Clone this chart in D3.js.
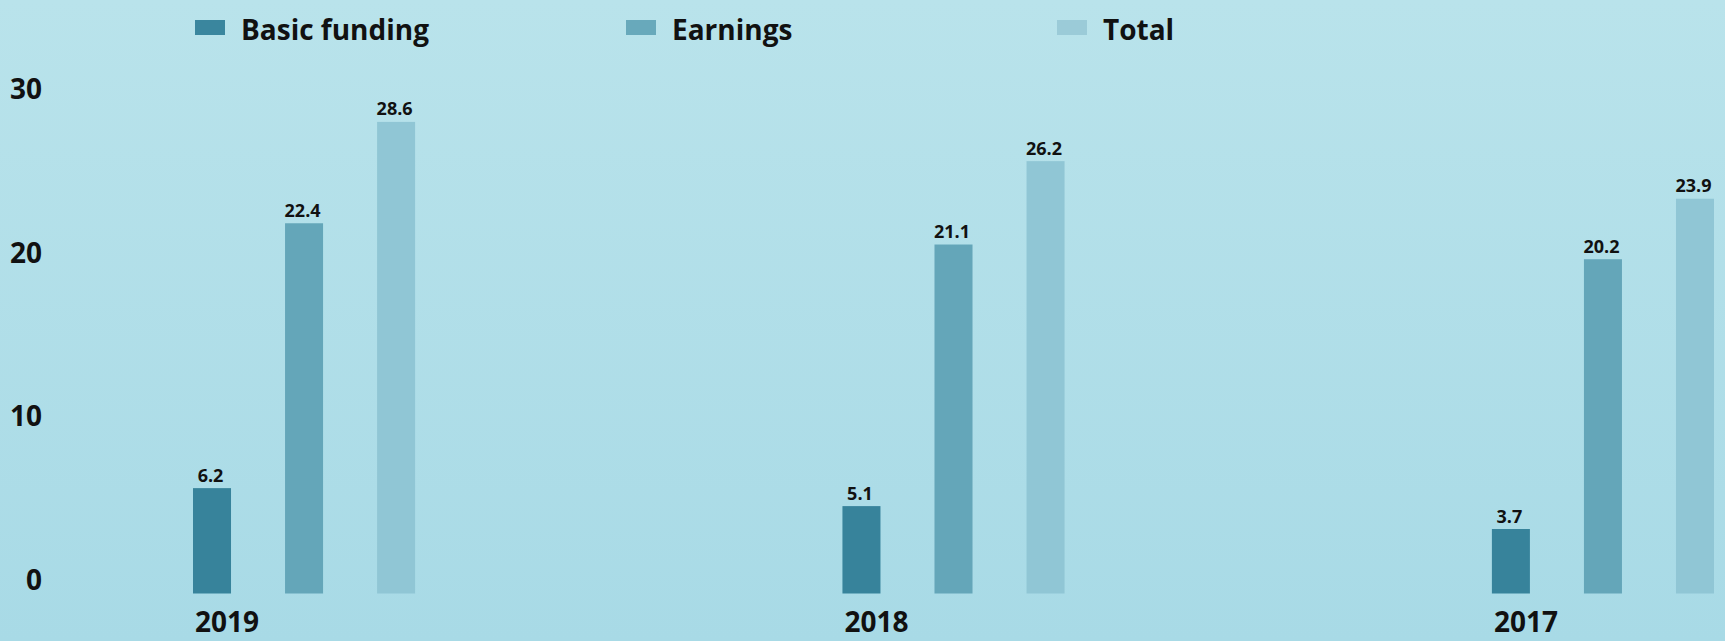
<!DOCTYPE html>
<html>
<head>
<meta charset="utf-8">
<script src="https://cdn.jsdelivr.net/npm/d3@7"></script>
<style>
  html, body { margin: 0; padding: 0; background: #b3e0e9; }
  svg { display: block; }
  text { font-family: "Open Sans", "Noto Sans", sans-serif; font-weight: 700; fill: #111; }
</style>
</head>
<body>
<svg id="chart" width="1725" height="641"></svg>
<script>
const years = ["2019", "2018", "2017"];
const series = ["Basic funding", "Earnings", "Total"];
const basicFunding = [6.2, 5.1, 3.7];
const earnings = [22.4, 21.1, 20.2];
const total = [28.6, 26.2, 23.9];
const yTicks = [0, 10, 20, 30];
const colors = ["#37839b", "#64a6b9", "#90c6d5"];
const legendColors = ["#3a869e", "#68a9bb", "#9bcbd8"];

const seriesValues = [basicFunding, earnings, total];

const W = 1725, H = 641;
const svg = d3.select("#chart");

// background gradient
const defs = svg.append("defs");
const grad = defs.append("linearGradient").attr("id", "bg").attr("x1", 0).attr("y1", 0).attr("x2", 0).attr("y2", 1);
grad.append("stop").attr("offset", "0%").attr("stop-color", "#b9e3eb");
grad.append("stop").attr("offset", "100%").attr("stop-color", "#a8dae6");
svg.append("rect").attr("width", W).attr("height", H).attr("fill", "url(#bg)");

// scales
const y = d3.scaleLinear().domain([0, 30]).range([589.5, 99]);
const baseY = y(0) + 4;

const x0 = d3.scaleBand().domain(years).range([193, 1714]).paddingInner(0.658).paddingOuter(0);
const x1 = d3.scaleBand().domain(series).range([0, x0.bandwidth()]).paddingInner(0.587).paddingOuter(0);
const color = d3.scaleOrdinal().domain(series).range(colors);

// data
const data = years.map((yr, i) => ({
  year: yr,
  values: series.map((s, j) => ({ key: s, value: seriesValues[j][i] }))
}));

// y axis
const yAxis = svg.append("g")
  .attr("transform", "translate(42,0)")
  .call(d3.axisLeft(y).tickValues(yTicks).tickSize(0).tickPadding(0).tickFormat(d3.format("d")));
yAxis.select(".domain").remove();
yAxis.selectAll("text")
  .attr("y", -9)
  .style("font-family", "'Open Sans', sans-serif")
  .style("font-weight", 700)
  .style("font-size", "28px")
  .attr("fill", "#111");

// groups
const groups = svg.append("g").selectAll("g")
  .data(data).join("g")
  .attr("transform", d => `translate(${x0(d.year)},0)`);

groups.selectAll("rect")
  .data(d => d.values).join("rect")
  .attr("x", d => x1(d.key))
  .attr("y", d => y(d.value))
  .attr("width", x1.bandwidth())
  .attr("height", d => baseY - y(d.value))
  .attr("fill", d => color(d.key));

groups.selectAll("text.val")
  .data(d => d.values).join("text")
  .attr("class", "val")
  .attr("x", d => x1(d.key) + x1.bandwidth() / 2 - 1.5)
  .attr("y", d => y(d.value) - 6.5)
  .attr("text-anchor", "middle")
  .style("font-size", "18px")
  .text(d => d3.format(".1f")(d.value));

// year labels
svg.append("g").selectAll("text")
  .data(years).join("text")
  .attr("x", d => x0(d) + 2)
  .attr("y", 631.5)
  .style("font-size", "28px")
  .text(d => d);

// legend
const lx = d3.scalePoint().domain(series).range([195, 1057]);
const legend = svg.append("g").selectAll("g")
  .data(series).join("g")
  .attr("transform", d => `translate(${lx(d)},0)`);
legend.append("rect")
  .attr("x", 0).attr("y", 20).attr("width", 30).attr("height", 15)
  .attr("fill", (d, i) => legendColors[i]);
legend.append("text")
  .attr("x", 46).attr("y", 40)
  .style("font-size", "28px")
  .text(d => d);
</script>
</body>
</html>
